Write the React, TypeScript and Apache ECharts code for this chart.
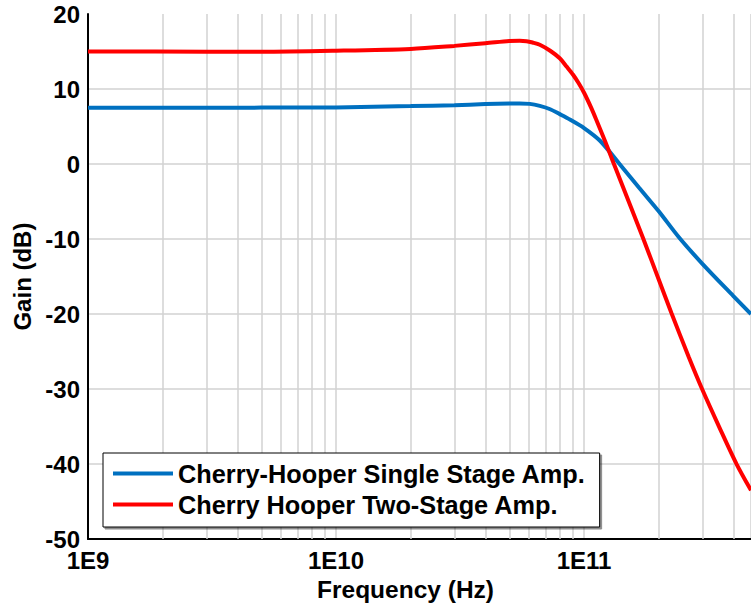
import React, { useEffect, useRef } from "react";
import * as echarts from "echarts";

// ---- data ----
const singleName = "Cherry-Hooper Single Stage Amp.";
const twoName = "Cherry Hooper Two-Stage Amp.";

const singleFreq = [1e9, 2e9, 5e9, 1e10, 2e10, 3e10, 4e10, 5e10, 5.5e10, 6.04e10, 6.63e10, 7.3e10, 7.98e10, 8.8e10, 1e11, 1.16e11, 1.39e11, 1.67e11, 2e11, 2.43e11, 3e11, 4e11, 4.71e11];
const singleGain = [7.5, 7.5, 7.52, 7.55, 7.72, 7.85, 7.99, 8.07, 8.08, 8.02, 7.75, 7.3, 6.65, 5.9, 4.8, 3.1, 0.0, -3.2, -6.3, -9.9, -13.3, -17.6, -20.0];

const twoFreq = [1e9, 3e9, 5e9, 1e10, 2e10, 3e10, 4e10, 5e10, 5.5e10, 5.86e10, 6.2e10, 6.63e10, 7.3e10, 7.98e10, 8.5e10, 9.03e10, 9.5e10, 1e11, 1.07e11, 1.12e11, 1.22e11, 1.3e11, 1.39e11, 1.73e11, 2e11, 2.25e11, 2.64e11, 3e11, 3.5e11, 4.12e11, 4.71e11];
const twoGain = [15.0, 14.98, 14.96, 15.1, 15.35, 15.75, 16.1, 16.4, 16.45, 16.38, 16.2, 15.9, 15.1, 14.1, 13.0, 11.9, 10.8, 9.5, 7.45, 5.9, 2.9, 0.55, -1.9, -9.9, -15.4, -19.85, -25.7, -30.1, -35.0, -40.0, -43.5];

const minorGridFreq = [2e9, 3e9, 4e9, 5e9, 6e9, 7e9, 8e9, 9e9, 2e10, 3e10, 4e10, 5e10, 6e10, 7e10, 8e10, 9e10, 2e11, 3e11, 4e11];

const xMin = 1e9;
const xMax = 4.71e11;
const yMin = -50;
const yMax = 20;
const yStep = 10;

const FONT = "'Liberation Sans', Arial, sans-serif";
const GRID_COLOR = "#d2d2d2";

function pairs(xs: number[], ys: number[]) {
  return xs.map((x, i) => [x, ys[i]]);
}

export default function App() {
  const ref = useRef<HTMLDivElement | null>(null);

  useEffect(() => {
    if (!ref.current) return;
    const chart = echarts.init(ref.current, undefined, { renderer: "svg" });
    const option: any = {
      animation: false,
      backgroundColor: "#ffffff",
      grid: { left: 88, right: 0, top: 14, bottom: 64, containLabel: false },
      xAxis: {
        type: "log",
        logBase: 10,
        min: xMin,
        max: xMax,
        name: "Frequency (Hz)",
        nameLocation: "middle",
        nameGap: 36,
        nameTextStyle: { fontFamily: FONT, fontWeight: "bold", fontSize: 24.5, color: "#000", padding: [0, 28, 0, 0] },
        axisLine: { show: true, onZero: false, lineStyle: { color: "#000", width: 2 } },
        axisTick: { show: false },
        axisLabel: {
          margin: 9,
          fontFamily: FONT,
          fontWeight: "bold",
          fontSize: 24,
          color: "#000",
          showMaxLabel: false,
          formatter: (v: number) => {
            const e = Math.log10(v);
            const r = Math.round(e);
            return Math.abs(e - r) < 1e-6 ? "1E" + r : "";
          },
        },
        splitLine: { show: true, lineStyle: { color: GRID_COLOR, width: 1.5 } },
      },
      yAxis: {
        type: "value",
        min: yMin,
        max: yMax,
        interval: yStep,
        name: "Gain (dB)",
        nameLocation: "middle",
        nameGap: 50,
        nameTextStyle: { fontFamily: FONT, fontWeight: "bold", fontSize: 24, color: "#000" },
        axisLine: { show: true, onZero: false, lineStyle: { color: "#000", width: 2 } },
        axisTick: { show: false },
        axisLabel: { margin: 8, fontFamily: FONT, fontWeight: "bold", fontSize: 24, color: "#000" },
        splitLine: { show: true, showMaxLine: false, lineStyle: { color: GRID_COLOR, width: 1.5 } },
      },
      legend: {
        orient: "vertical",
        left: 103,
        top: 453,
        data: [singleName, twoName],
        icon: "rect",
        itemWidth: 60,
        itemHeight: 4,
        itemGap: 6,
        padding: [8, 14, 10, 10],
        backgroundColor: "#fff",
        borderColor: "#000",
        borderWidth: 1,
        shadowColor: "rgba(0,0,0,0.45)",
        shadowOffsetX: 2,
        shadowOffsetY: 2,
        shadowBlur: 1,
        textStyle: { fontFamily: FONT, fontWeight: "bold", fontSize: 25.3, color: "#000" },
        selectedMode: false,
      },
      series: [
        {
          name: "_grid",
          type: "line",
          data: [],
          silent: true,
          z: 1,
          markLine: {
            silent: true,
            z: 1,
            symbol: ["none", "none"],
            label: { show: false },
            emphasis: { disabled: true },
            lineStyle: { color: GRID_COLOR, width: 1.5, type: "solid" },
            data: minorGridFreq.map((f) => ({ xAxis: f })),
          },
        },
        {
          name: singleName,
          type: "line",
          data: pairs(singleFreq, singleGain),
          showSymbol: false,
          symbol: "none",
          smooth: 0.3,
          z: 3,
          color: "#0070c0",
          lineStyle: { color: "#0070c0", width: 4 },
        },
        {
          name: twoName,
          type: "line",
          data: pairs(twoFreq, twoGain),
          showSymbol: false,
          symbol: "none",
          smooth: 0.3,
          z: 3,
          color: "#ff0000",
          lineStyle: { color: "#ff0000", width: 4 },
        },
      ],
    };
    chart.setOption(option);
    return () => chart.dispose();
  }, []);

  return (
    <div
      ref={ref}
      style={{ position: "absolute", left: 0, top: 0, width: 751, height: 607 }}
    />
  );
}
